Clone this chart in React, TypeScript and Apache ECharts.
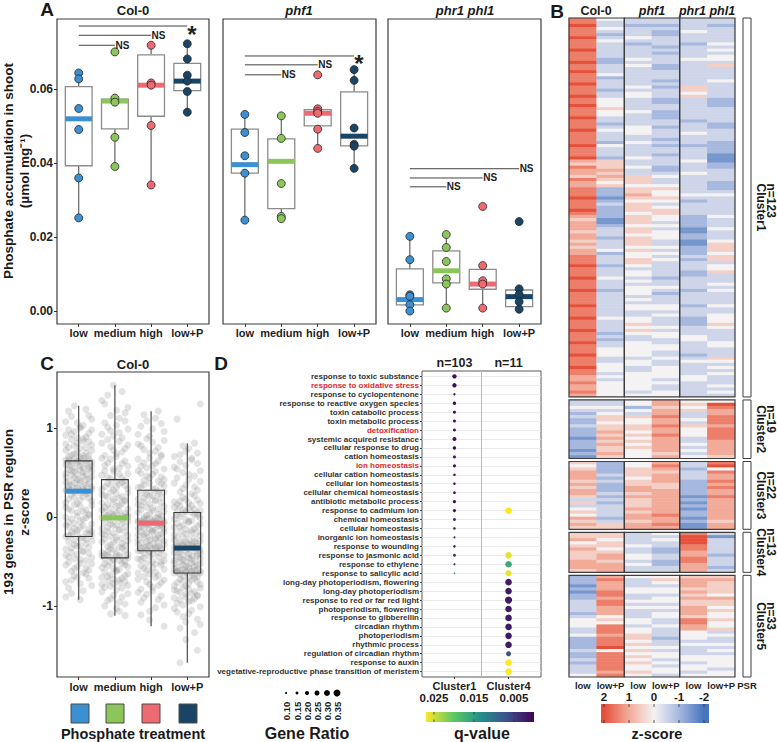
import React, { useEffect, useRef } from 'react';
import * as echarts from 'echarts';

const FONT = '"Liberation Sans", Arial, Helvetica, sans-serif';

// ---------- shared ----------
const treatments = ['low', 'medium', 'high', 'low+P'];
const treatmentColors = ['#3b8fd3', '#8cc65b', '#ee6a72', '#1a4465'];
const genotypes = ['Col-0', 'phf1', 'phr1 phl1'];

// ---------- Panel A (phosphate accumulation, µmol/mg) ----------
const aTicks = [0, 0.02, 0.04, 0.06];
// [lowerWhisker, Q1, median, Q3, upperWhisker]
const col0Box = [[0.0252, 0.0393, 0.052, 0.0607, 0.0644], [0.0391, 0.0493, 0.0568, 0.0573, 0.0576], [0.0341, 0.0527, 0.0611, 0.0693, 0.0719], [0.0538, 0.0596, 0.0622, 0.067, 0.0723]];
const col0Pts = [[0.0644, 0.0628, 0.0548, 0.0491, 0.036, 0.0252], [0.0701, 0.0576, 0.0565, 0.047, 0.0391], [0.0719, 0.0617, 0.0611, 0.0502, 0.0341], [0.0723, 0.0682, 0.0638, 0.0622, 0.0594, 0.0538]];
const phf1Box = [[0.0246, 0.0373, 0.0396, 0.0492, 0.0532], [0.025, 0.0277, 0.0405, 0.0466, 0.0528], [0.044, 0.0501, 0.0535, 0.0545, 0.0547], [0.0386, 0.0447, 0.0473, 0.0593, 0.0653]];
const phf1Pts = [[0.0532, 0.0483, 0.042, 0.0373, 0.0246], [0.0528, 0.0467, 0.0345, 0.0256, 0.025], [0.0639, 0.0547, 0.054, 0.0535, 0.0492, 0.044], [0.0653, 0.0624, 0.0495, 0.0451, 0.0446, 0.0386]];
const phrBox = [[0.0, 0.0017, 0.0031, 0.0114, 0.0202], [0.0008, 0.0076, 0.0109, 0.0163, 0.0207], [0.0008, 0.0059, 0.0073, 0.0113, 0.0123], [0.0005, 0.0012, 0.0039, 0.0057, 0.006]];
const phrPts = [[0.0202, 0.0139, 0.0044, 0.004, 0.0017, 0.0], [0.0207, 0.0172, 0.0134, 0.0087, 0.0073, 0.0008], [0.0283, 0.0123, 0.0082, 0.0073, 0.0008], [0.0242, 0.006, 0.0045, 0.0025, 0.0005]];
const sigLabels = ['NS', '*'];
// [fromIndex, toIndex, y, labelIndex]
const col0Sig = [[0, 1, 0.0719, 0], [0, 2, 0.0746, 0], [0, 3, 0.0771, 1]];
const phf1Sig = [[0, 1, 0.0639, 0], [0, 2, 0.0666, 0], [0, 3, 0.069, 1]];
const phrSig = [[0, 1, 0.0336, 0], [0, 2, 0.036, 0], [0, 3, 0.0385, 0]];

// ---------- Panel C (z-scores of 193 PSR genes, x100) ----------
const cBox = [[-0.93, -0.22, 0.29, 0.63, 1.25], [-1.11, -0.46, -0.01, 0.42, 1.48], [-1.23, -0.38, -0.07, 0.3, 1.19], [-1.64, -0.63, -0.35, 0.05, 0.83]];
const cLowVals = '125 121 119 114 113 110 107 106 103 101 100 98 98 96 94 93 92 90 89 88 87 85 85 83 82 81 80 78 78 77 75 75 73 72 71 70 69 69 68 67 66 66 65 64 64 63 63 63 62 62 61 60 59 59 58 57 57 56 55 55 54 53 53 52 51 51 50 49 48 48 47 46 45 45 44 43 42 42 41 40 39 39 38 37 36 36 35 34 34 33 32 32 31 31 30 30 29 28 27 27 26 25 23 22 21 20 19 18 16 15 14 13 12 11 9 8 7 6 5 3 2 1 0 -1 -2 -3 -5 -6 -7 -8 -9 -10 -11 -12 -13 -14 -15 -16 -17 -18 -19 -19 -20 -21 -21 -22 -23 -24 -25 -26 -27 -28 -30 -31 -32 -33 -34 -35 -36 -38 -39 -40 -41 -42 -43 -45 -46 -47 -48 -49 -51 -52 -53 -54 -56 -57 -58 -60 -61 -63 -64 -66 -68 -69 -71 -73 -75 -77 -80 -83 -86 -90 -93';
const cMediumVals = '148 141 137 131 127 123 120 117 114 111 108 106 103 101 99 97 95 93 91 89 87 85 83 81 79 77 75 73 71 69 68 66 65 63 61 60 58 57 55 54 52 51 49 48 47 45 44 43 41 40 39 38 37 36 35 34 33 32 31 30 28 27 26 25 24 23 22 21 20 19 18 17 16 15 14 13 12 11 10 9 8 7 6 5 4 4 3 2 2 1 1 0 0 0 -1 -1 -1 -2 -3 -4 -5 -6 -7 -8 -9 -10 -11 -12 -13 -14 -15 -16 -17 -18 -19 -20 -21 -22 -23 -24 -25 -26 -27 -28 -29 -30 -31 -32 -33 -34 -35 -36 -37 -38 -39 -40 -41 -42 -42 -43 -43 -44 -44 -45 -45 -46 -47 -48 -49 -50 -51 -52 -53 -54 -55 -56 -57 -58 -59 -60 -61 -62 -64 -65 -66 -67 -68 -69 -70 -71 -72 -73 -74 -75 -76 -77 -78 -79 -80 -82 -84 -86 -88 -90 -92 -94 -96 -98 -100 -103 -106 -109 -111';
const cHighVals = '119 115 111 108 105 102 99 96 93 91 88 86 84 82 80 78 76 74 72 70 68 66 65 63 61 60 58 57 55 54 52 51 49 48 46 45 44 42 41 40 38 37 36 35 34 33 32 31 29 28 28 27 26 25 24 23 22 21 20 19 18 17 16 15 14 13 12 11 10 9 8 7 6 5 4 3 2 1 0 -1 -1 -2 -2 -3 -3 -4 -4 -5 -5 -5 -6 -6 -6 -7 -7 -7 -7 -8 -8 -9 -9 -10 -11 -11 -12 -13 -13 -14 -15 -15 -16 -17 -17 -18 -19 -20 -20 -21 -22 -23 -23 -24 -25 -26 -26 -27 -28 -29 -29 -30 -31 -31 -32 -33 -33 -34 -34 -35 -35 -36 -36 -37 -37 -38 -38 -39 -40 -41 -42 -43 -44 -45 -46 -47 -48 -49 -50 -51 -52 -53 -54 -55 -57 -58 -59 -60 -62 -63 -64 -66 -67 -68 -70 -71 -73 -74 -76 -77 -79 -81 -83 -85 -87 -89 -91 -93 -96 -99 -102 -106 -110 -116 -123';
const cLowPVals = '127 110 83 80 77 74 72 70 68 66 64 62 60 58 56 54 52 50 48 46 44 42 40 38 36 34 32 30 28 26 24 22 20 19 18 17 16 15 14 13 12 11 10 9 8 7 6 6 5 4 4 3 2 1 0 -1 -2 -3 -4 -5 -6 -7 -8 -9 -10 -11 -12 -13 -14 -15 -16 -17 -18 -19 -20 -21 -22 -23 -24 -25 -26 -27 -28 -28 -29 -29 -30 -30 -31 -31 -32 -32 -33 -33 -34 -34 -35 -36 -36 -37 -38 -38 -39 -40 -40 -41 -42 -42 -43 -44 -44 -45 -46 -46 -47 -48 -48 -49 -50 -50 -51 -52 -52 -53 -54 -54 -55 -56 -56 -57 -58 -58 -59 -59 -60 -60 -61 -61 -61 -62 -62 -62 -63 -63 -63 -64 -65 -66 -67 -68 -69 -70 -71 -72 -73 -74 -75 -76 -77 -78 -79 -80 -81 -82 -83 -84 -85 -86 -87 -88 -89 -90 -91 -92 -93 -94 -95 -97 -99 -101 -103 -105 -107 -109 -112 -115 -118 -121 -125 -130 -138 -150 -164';
const jitterDigits = ['3718290465', '5193820746', '2864093175', '0947326815', '6381047259', '4720195836', '8152936047', '2609384751', '5038271964', '1496027385', '7263815904', '3950172648', '8407265139', '0615384927', '4829106573', '9173548206', '6284019357', '1590473826', '7348205916', '2057391468'].join('');

// ---------- Panel D (GO enrichment) ----------
const goTerms = ['response to toxic substance', 'response to oxidative stress', 'response to cyclopentenone', 'response to reactive oxygen species', 'toxin catabolic process', 'toxin metabolic process', 'detoxification', 'systemic acquired resistance', 'cellular response to drug', 'cation homeostasis', 'ion homeostasis', 'cellular cation homeostasis', 'cellular ion homeostasis', 'cellular chemical homeostasis', 'antibiotic metabolic process', 'response to cadmium ion', 'chemical homeostasis', 'cellular homeostasis', 'inorganic ion homeostasis', 'response to wounding', 'response to jasmonic acid', 'response to ethylene', 'response to salicylic acid', 'long-day photoperiodism, flowering', 'long-day photoperiodism', 'response to red or far red light', 'photoperiodism, flowering', 'response to gibberellin', 'circadian rhythm', 'photoperiodism', 'rhythmic process', 'regulation of circadian rhythm', 'response to auxin', 'vegetative-reproductive phase transition of meristem'];
const redTerms = ['response to oxidative stress', 'detoxification', 'ion homeostasis'];
const goClusters = ['Cluster1', 'Cluster4'];
const goClusterN = ['n=103', 'n=11'];
const c1GeneRatio = [0.22, 0.22, 0.12, 0.17, 0.15, 0.15, 0.15, 0.2, 0.17, 0.15, 0.16, 0.13, 0.13, 0.14, 0.16, 0.16, 0.15, 0.13, 0.1, 0.13, 0.15, 0.1, 0.08];
const c1QValue = [0.001, 0.001, 0.002, 0.001, 0.001, 0.001, 0.001, 0.001, 0.001, 0.002, 0.002, 0.002, 0.002, 0.002, 0.001, 0.002, 0.003, 0.003, 0.004, 0.003, 0.004, 0.005, 0.016];
const c4TermIndex = [15, 20, 21, 22, 23, 24, 25, 26, 27, 28, 29, 30, 31, 32, 33];
const c4GeneRatio = [0.33, 0.33, 0.33, 0.3, 0.33, 0.33, 0.36, 0.33, 0.33, 0.33, 0.33, 0.33, 0.25, 0.33, 0.33];
const c4QValue = [0.027, 0.026, 0.0165, 0.026, 0.002, 0.002, 0.002, 0.002, 0.002, 0.002, 0.002, 0.002, 0.007, 0.027, 0.027];
const ratioLegend = [0.1, 0.15, 0.2, 0.25, 0.3, 0.35];
const qTicks = [0.025, 0.015, 0.005];

// ---------- Panel B heatmap (z-score coded: digit d -> (d-4)/2) ----------
const heatCols = ['low', 'low+P'];
const clusterNames = ['Cluster1', 'Cluster2', 'Cluster3', 'Cluster4', 'Cluster5'];
const clusterSizes = [123, 19, 22, 13, 33];
const c1Col0Low = ['7787778777877787787778777877877787778777787778', '6576657667', '77877787', '6566656656566', '777877787778777', '787778777877787778777877', '6676676'].join('');
const c1Col0LowP = ['43343234333', '3322333423332334', '44544', '33234333243332', '555656545', '222123222', '21123', '33233342333233343332333', '3333343333232334443344434344444'].join('');
const c1Phf1Low = ['332333432333343433333', '343443333433334443343333433433', '555455654555455545545554544554', '344343444343443344545433444443443344444434'].join('');
const c1Phf1LowP = ['332322333232333223332', '323332233222332333232332333223', '433454454345544343444334343433', '333233432333443433343443344334334444343344'].join('');
const c1PhrLow = ['333343332333343333333355453333', '333233343332333343334333333432', '333322221122112223233322333323', '3332333222333443333234333344333', '33'].join('');
const c1PhrLowP = ['332333334343443533334333332223', '333322333322221112233332223433', '333343334333455545534453334343', '3334334445433334433354343433343', '43'].join('');
const c2Col0Low = '3343232232221222121';
const c2Col0LowP = '3343455455656565565';
const c2Phf1Low = '4424354455454545444';
const c2Phf1LowP = '6656676676676666656';
const c2PhrLow = '4545334354443343434';
const c2PhrLowP = '4876677767777666665';
const c3Col0Low = '5456665656653534546565';
const c3Col0LowP = '2222323222323233332355';
const c3Phf1Low = '4455545566565556566566';
const c3Phf1LowP = '6765666556666666676676';
const c3PhrLow = '3323332222212121221211';
const c3PhrLowP = '7847667676676666666566';
const c4Col0Low = '5564565556665';
const c4Col0LowP = '5545545665666';
const c4Phf1Low = '3333433443433';
const c4Phf1LowP = '4343322332233';
const c4PhrLow = '7888776677666';
const c4PhrLowP = '3133333233323';
const c5Col0Low = '222121223333234443342222322323334';
const c5Col0LowP = '676667767766645477767778477777767';
const c5Phf1Low = '433344334343334434455454545454454';
const c5Phf1LowP = '454344344343443343332334344343443';
const c5PhrLow = '566656565566657766444343334434434';
const c5PhrLowP = '565555465545445445343343434444344';
const clusterCols = [
  [c1Col0Low, c1Col0LowP, c1Phf1Low, c1Phf1LowP, c1PhrLow, c1PhrLowP],
  [c2Col0Low, c2Col0LowP, c2Phf1Low, c2Phf1LowP, c2PhrLow, c2PhrLowP],
  [c3Col0Low, c3Col0LowP, c3Phf1Low, c3Phf1LowP, c3PhrLow, c3PhrLowP],
  [c4Col0Low, c4Col0LowP, c4Phf1Low, c4Phf1LowP, c4PhrLow, c4PhrLowP],
  [c5Col0Low, c5Col0LowP, c5Phf1Low, c5Phf1LowP, c5PhrLow, c5PhrLowP],
];
const psrRowsC1 = [17, 22, 57, 78, 105, 117];
const psrRowsC3 = [14];
const psrRows = [psrRowsC1, [], psrRowsC3, [], []];
const zTicks = [2, 1, 0, -1, -2];

const heatColors = ['#4574bd', '#a7b8df', '#f4f2f2', '#f3ab99', '#e5503a'];
const viridis = ['#440154', '#3b528b', '#21918c', '#5ec962', '#fde725'];

function txt(text: string, x: number, y: number, size: number, extra: any = {}) {
  const { rotation, ...style } = extra;
  return {
    type: 'text', x, y, rotation: rotation || 0, silent: true,
    style: { text, fontSize: size, fontWeight: 'bold', fontFamily: FONT, fill: '#1a1a1a', align: 'center', verticalAlign: 'middle', ...style },
  };
}

function makeBoxRender(fill: string, whisker: string, stroke: string, strokeW: number) {
  return (params: any, api: any) => {
    const x = api.value(0);
    const lo = api.value(1), q1 = api.value(2), med = api.value(3), q3 = api.value(4), hi = api.value(5);
    const ci = api.value(6);
    const h = 0.37;
    const tl = api.coord([x - h, q3]);
    const br = api.coord([x + h, q1]);
    const pHi = api.coord([x, hi]), pQ3 = api.coord([x, q3]), pQ1 = api.coord([x, q1]), pLo = api.coord([x, lo]);
    const mL = api.coord([x - h, med]), mR = api.coord([x + h, med]);
    return {
      type: 'group',
      children: [
        { type: 'line', shape: { x1: pHi[0], y1: pHi[1], x2: pQ3[0], y2: pQ3[1] }, style: { stroke: whisker, lineWidth: 1.1 } },
        { type: 'line', shape: { x1: pLo[0], y1: pLo[1], x2: pQ1[0], y2: pQ1[1] }, style: { stroke: whisker, lineWidth: 1.1 } },
        { type: 'rect', shape: { x: tl[0], y: tl[1], width: br[0] - tl[0], height: br[1] - tl[1] }, style: { fill, stroke, lineWidth: strokeW } },
        { type: 'line', shape: { x1: mL[0], y1: mL[1], x2: mR[0], y2: mR[1] }, style: { stroke: treatmentColors[ci], lineWidth: 5 } },
      ],
    };
  };
}

const sigRender = (params: any, api: any) => {
  const x0 = api.value(0), x1 = api.value(1), y = api.value(2), li = api.value(3);
  const p0 = api.coord([x0, y]);
  const p1 = api.coord([x1, y]);
  const lbl = sigLabels[li];
  const star = lbl === '*';
  return {
    type: 'group',
    children: [
      { type: 'line', shape: { x1: p0[0], y1: p0[1], x2: p1[0], y2: p1[1] }, style: { stroke: '#444', lineWidth: 1 } },
      {
        type: 'text', x: p1[0] + (star ? 0 : 0.5), y: p1[1] + (star ? -4 : 0),
        style: { text: lbl, fontSize: star ? 24 : 10, fontWeight: 'bold', fontFamily: FONT, fill: '#222', align: 'left', verticalAlign: star ? 'top' : 'middle' },
      },
    ],
  };
};

function buildOption() {
  const grid: any[] = [];
  const xAxis: any[] = [];
  const yAxis: any[] = [];
  const series: any[] = [];
  const graphic: any[] = [];
  const lab = { fontFamily: FONT, fontWeight: 'bold', color: '#1f1f1f' };
  const noLine = { show: false, onZero: false };
  const catIdx = treatments.map((_, i) => i);

  // ---------- Panel A ----------
  const aLefts = [57, 223, 388];
  const aWidths = [152, 153, 153];
  const boxes = [col0Box, phf1Box, phrBox];
  const pts = [col0Pts, phf1Pts, phrPts];
  const sigs = [col0Sig, phf1Sig, phrSig];
  genotypes.forEach((g, gi) => {
    grid.push({ left: aLefts[gi], top: 19, width: aWidths[gi], height: 305, show: true, borderColor: '#3c3c3c', borderWidth: 1.2, backgroundColor: '#fff', z: 0 });
    xAxis.push({
      type: 'value', gridIndex: gi, min: -0.6, max: 3.6, splitLine: { show: false }, axisLine: noLine,
      axisTick: { show: true, customValues: catIdx, length: 3, lineStyle: { color: '#333' } },
      axisLabel: { customValues: catIdx, formatter: (v: number) => treatments[Math.round(v)], fontSize: 11, margin: 3, ...lab },
    });
    yAxis.push({
      type: 'value', gridIndex: gi, min: -0.0035, max: 0.079, splitLine: { show: false }, axisLine: noLine,
      axisTick: { show: gi === 0, customValues: aTicks, length: 3, lineStyle: { color: '#333' } },
      axisLabel: { show: gi === 0, customValues: aTicks, formatter: (v: number) => v.toFixed(2), fontSize: 12, margin: 4, ...lab },
    });
    series.push({ type: 'custom', xAxisIndex: gi, yAxisIndex: gi, renderItem: makeBoxRender('#fff', '#555', '#8c8c8c', 1.3), data: boxes[gi].map((b, i) => [i, ...b, i]), silent: true, z: 2 });
    series.push({
      type: 'scatter', xAxisIndex: gi, yAxisIndex: gi, symbolSize: 8, silent: true, z: 3, progressive: 0,
      itemStyle: { borderColor: '#262626', borderWidth: 0.8, opacity: 1 },
      data: pts[gi].flatMap((arr, i) => arr.map((v) => ({ value: [i, v], itemStyle: { color: treatmentColors[i] } }))),
    });
    series.push({ type: 'custom', xAxisIndex: gi, yAxisIndex: gi, renderItem: sigRender, data: sigs[gi], silent: true, z: 4 });
  });

  // ---------- Panel C ----------
  grid.push({ left: 57, top: 372, width: 152, height: 305, show: true, borderColor: '#3c3c3c', borderWidth: 1.2, backgroundColor: '#fff', z: 0 });
  xAxis.push({
    type: 'value', gridIndex: 3, min: -0.6, max: 3.6, splitLine: { show: false }, axisLine: noLine,
    axisTick: { show: true, customValues: catIdx, length: 3, lineStyle: { color: '#333' } },
    axisLabel: { customValues: catIdx, formatter: (v: number) => treatments[Math.round(v)], fontSize: 11, margin: 4, ...lab },
  });
  yAxis.push({
    type: 'value', gridIndex: 3, min: -1.8, max: 1.63, splitLine: { show: false }, axisLine: noLine,
    axisTick: { show: true, customValues: [-1, 0, 1], length: 3, lineStyle: { color: '#333' } },
    axisLabel: { customValues: [-1, 0, 1], formatter: (v: number) => String(v), fontSize: 12, margin: 4, ...lab },
  });
  const cData: number[][] = [];
  [cLowVals, cMediumVals, cHighVals, cLowPVals].forEach((s, g) => {
    s.trim().split(/\s+/).forEach((t, i) => {
      const d = +jitterDigits[(i + g * 50) % jitterDigits.length];
      cData.push([g + (d - 4.5) * 0.08, +t / 100]);
    });
  });
  series.push({ type: 'scatter', xAxisIndex: 3, yAxisIndex: 3, symbolSize: 7, silent: true, progressive: 0, itemStyle: { color: 'rgba(120,120,120,0.26)' }, data: cData, z: 2 });
  series.push({ type: 'custom', xAxisIndex: 3, yAxisIndex: 3, renderItem: makeBoxRender('none', '#3a3a3a', '#3a3a3a', 1.1), data: cBox.map((b, i) => [i, ...b, i]), silent: true, z: 3 });

  // ---------- Panel D ----------
  const dGrid = grid.length;
  grid.push({ left: 422, top: 371, width: 119, height: 306, show: true, borderColor: '#5a5a5a', borderWidth: 1, backgroundColor: '#fff', z: 0 });
  const dX = xAxis.length;
  xAxis.push({
    type: 'value', gridIndex: dGrid, min: -0.6, max: 1.6, splitLine: { show: false }, axisLine: noLine,
    axisTick: { show: true, customValues: [0, 1], length: 2, lineStyle: { color: '#333' } },
    axisLabel: { customValues: [0, 1], formatter: (v: number) => goClusters[Math.round(v)], fontSize: 11, margin: 3, ...lab },
  });
  xAxis.push({
    type: 'value', gridIndex: dGrid, position: 'top', min: -0.6, max: 1.6, splitLine: { show: false }, axisLine: noLine,
    axisTick: { show: false },
    axisLabel: { customValues: [0, 1], formatter: (v: number) => goClusterN[Math.round(v)], fontSize: 12.5, margin: 2, ...lab },
  });
  const termIdx = goTerms.map((_, i) => i);
  const dY = yAxis.length;
  yAxis.push({
    type: 'value', gridIndex: dGrid, inverse: true, min: -0.6, max: goTerms.length - 0.4, splitLine: { show: false }, axisLine: noLine,
    axisTick: { show: true, customValues: termIdx, length: 2, lineStyle: { color: '#444' } },
    axisLabel: {
      customValues: termIdx, margin: 3, fontSize: 8, ...lab, color: '#333',
      formatter: (v: number) => {
        const t = goTerms[Math.round(v)];
        return redTerms.includes(t) ? `{r|${t}}` : `{b|${t}}`;
      },
      rich: {
        r: { fontSize: 8, fontWeight: 'bold', fontFamily: FONT, color: '#e3262d' },
        b: { fontSize: 8, fontWeight: 'bold', fontFamily: FONT, color: '#333' },
      },
    },
  });
  const dData: number[][] = [];
  c1GeneRatio.forEach((r, i) => dData.push([0, i, r, c1QValue[i]]));
  c4TermIndex.forEach((t, i) => dData.push([1, t, c4GeneRatio[i], c4QValue[i]]));
  const dSeries = series.length;
  series.push({
    type: 'scatter', xAxisIndex: dX, yAxisIndex: dY, silent: true, progressive: 0, z: 3,
    symbolSize: (v: number[]) => v[2] * 20,
    itemStyle: { opacity: 1 },
    data: dData,
    markLine: {
      silent: true, symbol: ['none', 'none'], label: { show: false }, animation: false, z: 1,
      data: [
        ...termIdx.map((i) => ({ yAxis: i, lineStyle: { color: '#e4e4e4', width: 0.8, type: 'solid' } })),
        { xAxis: 0.5, lineStyle: { color: '#b9b9b9', width: 1, type: 'solid' } },
      ],
    },
  });

  // ---------- Panel B heatmap ----------
  const rowH = 3.081;
  const gapH = 3;
  const heatLeft = 569;
  const groupW = 55.33;
  const clusterTops: number[] = [];
  let yCursor = 18;
  clusterSizes.forEach((n) => {
    clusterTops.push(yCursor);
    yCursor += n * rowH + gapH;
  });
  const heatSeries: number[] = [];
  clusterSizes.forEach((n, k) => {
    const rows = Array.from({ length: n }, (_, i) => String(i));
    const last = k === clusterSizes.length - 1;
    for (let g = 0; g < 3; g++) {
      const gi = grid.length;
      grid.push({ left: heatLeft + g * groupW, top: clusterTops[k], width: groupW, height: n * rowH, show: true, borderColor: '#3d3d3d', borderWidth: 1.2, backgroundColor: 'transparent', z: 10 });
      const xi = xAxis.length;
      xAxis.push({
        type: 'category', gridIndex: gi, data: heatCols, axisLine: noLine, axisTick: { show: false }, splitLine: { show: false },
        axisLabel: { show: last, interval: 0, fontSize: 9.5, margin: 3, ...lab },
      });
      const yi = yAxis.length;
      yAxis.push({ type: 'category', gridIndex: gi, data: rows, inverse: true, show: false, axisLine: noLine });
      const data: number[][] = [];
      for (let c = 0; c < 2; c++) {
        const s = clusterCols[k][g * 2 + c];
        for (let r = 0; r < n && r < s.length; r++) data.push([c, r, (+s[r] - 4) / 2]);
      }
      heatSeries.push(series.length);
      series.push({ type: 'heatmap', xAxisIndex: xi, yAxisIndex: yi, data, silent: true, progressive: 0, itemStyle: { borderWidth: 0 }, emphasis: { disabled: true } });
    }
    // PSR column
    const pg = grid.length;
    grid.push({ left: 743, top: clusterTops[k], width: 8, height: n * rowH, show: true, borderColor: '#3d3d3d', borderWidth: 1, backgroundColor: '#fff', z: 10 });
    const pxi = xAxis.length;
    xAxis.push({
      type: 'category', gridIndex: pg, data: ['PSR'], axisLine: noLine, axisTick: { show: false }, splitLine: { show: false },
      axisLabel: { show: last, interval: 0, fontSize: 9.5, margin: 3, ...lab },
    });
    const pyi = yAxis.length;
    yAxis.push({ type: 'category', gridIndex: pg, data: rows, inverse: true, show: false, axisLine: noLine });
    series.push({
      type: 'scatter', xAxisIndex: pxi, yAxisIndex: pyi, symbol: 'rect', symbolSize: [8, 2.6], silent: true,
      itemStyle: { color: '#111', opacity: 1 }, data: psrRows[k].map((r) => [0, r]),
    });
    // cluster label
    const center = clusterTops[k] + (n * rowH) / 2;
    graphic.push(txt(`n=${n}\n${clusterNames[k]}`, 765.5, center - 24, 12, { align: 'left', rotation: -Math.PI / 2, lineHeight: 10 }));
  });

  // ---------- titles & labels ----------
  graphic.push(txt('A', 47, 9, 19));
  graphic.push(txt('Col-0', 133, 10.5, 13));
  graphic.push(txt('phf1', 299, 10.5, 13, { fontStyle: 'italic' }));
  graphic.push(txt('phr1 phl1', 465, 10.5, 13, { fontStyle: 'italic' }));
  graphic.push(txt('Phosphate accumulation in shoot\n(µmol mg⁻¹)', 16, 171, 13.5, { rotation: Math.PI / 2, lineHeight: 16 }));
  graphic.push(txt('B', 557, 11, 19));
  graphic.push(txt('Col-0', 596, 11, 12.5));
  graphic.push(txt('phf1', 652, 11, 12.5, { fontStyle: 'italic' }));
  graphic.push(txt('phr1 phl1', 707, 11, 12.5, { fontStyle: 'italic' }));
  graphic.push(txt('C', 47, 363, 19));
  graphic.push(txt('Col-0', 133, 364, 13));
  graphic.push(txt('193 genes in PSR regulon\nz-score', 16, 512, 13.5, { rotation: Math.PI / 2, lineHeight: 16 }));
  graphic.push(txt('D', 221, 363, 19));

  // Phosphate treatment legend
  const legX = [71, 106, 142, 179];
  treatmentColors.forEach((c, i) => {
    graphic.push({ type: 'rect', silent: true, shape: { x: legX[i], y: 704, width: 18, height: 19 }, style: { fill: c, stroke: '#4a4a4a', lineWidth: 1 } });
  });
  graphic.push(txt('Phosphate treatment', 133, 734, 14.5));

  // Gene ratio legend
  const grX = [286, 297, 307, 317, 327, 337];
  ratioLegend.forEach((r, i) => {
    graphic.push({ type: 'circle', silent: true, shape: { cx: grX[i], cy: 693, r: r * 10 }, style: { fill: '#000' } });
    graphic.push(txt(r.toFixed(2), grX[i] + 0.5, 711, 9.5, { rotation: Math.PI / 2 }));
  });
  graphic.push(txt('Gene Ratio', 307, 733, 16));

  // q-value colorbar
  const qx = (q: number) => 534 - q * 4000;
  graphic.push({
    type: 'rect', silent: true, shape: { x: 426, y: 712, width: 108, height: 10 },
    style: { fill: new echarts.graphic.LinearGradient(0, 0, 1, 0, [0, 0.25, 0.5, 0.75, 1].map((o, i) => ({ offset: o, color: viridis[4 - i] }))) },
  });
  qTicks.forEach((q) => {
    graphic.push({ type: 'line', silent: true, shape: { x1: qx(q), y1: 712, x2: qx(q), y2: 714.5 }, style: { stroke: '#333', lineWidth: 0.8 } });
    graphic.push({ type: 'line', silent: true, shape: { x1: qx(q), y1: 719.5, x2: qx(q), y2: 722 }, style: { stroke: '#333', lineWidth: 0.8 } });
    graphic.push(txt(String(q), qx(q), 698, 11.5));
  });
  graphic.push(txt('q-value', 482, 733, 16));

  // z-score colorbar
  const zx = (z: number) => 654 - z * 25;
  graphic.push({
    type: 'rect', silent: true, shape: { x: 601, y: 704, width: 108, height: 19 },
    style: { fill: new echarts.graphic.LinearGradient(0, 0, 1, 0, zTicks.map((z, i) => ({ offset: (zx(z) - 601) / 108, color: heatColors[4 - i] }))) },
  });
  zTicks.forEach((z) => {
    graphic.push({ type: 'line', silent: true, shape: { x1: zx(z), y1: 704, x2: zx(z), y2: 707 }, style: { stroke: '#333', lineWidth: 0.8 } });
    graphic.push({ type: 'line', silent: true, shape: { x1: zx(z), y1: 720, x2: zx(z), y2: 723 }, style: { stroke: '#333', lineWidth: 0.8 } });
    graphic.push(txt(String(z), zx(z), 697, 11.5));
  });
  graphic.push(txt('z-score', 657, 734, 14.5));

  return {
    animation: false,
    backgroundColor: '#fff',
    textStyle: { fontFamily: FONT },
    grid, xAxis, yAxis, series,
    visualMap: [
      { type: 'continuous', show: false, min: -2, max: 2, seriesIndex: heatSeries, inRange: { color: heatColors } },
      { type: 'continuous', show: false, min: 0, max: 0.027, dimension: 3, seriesIndex: [dSeries], inRange: { color: viridis } },
    ],
    graphic: { elements: graphic },
  };
}

export default function App() {
  const ref = useRef<HTMLDivElement>(null);
  useEffect(() => {
    if (!ref.current) return;
    const chart = echarts.init(ref.current, null, { renderer: 'svg' });
    chart.setOption(buildOption() as any);
    return () => chart.dispose();
  }, []);
  return <div ref={ref} style={{ position: 'absolute', left: 0, top: 0, width: 777, height: 742, background: '#fff' }} />;
}
